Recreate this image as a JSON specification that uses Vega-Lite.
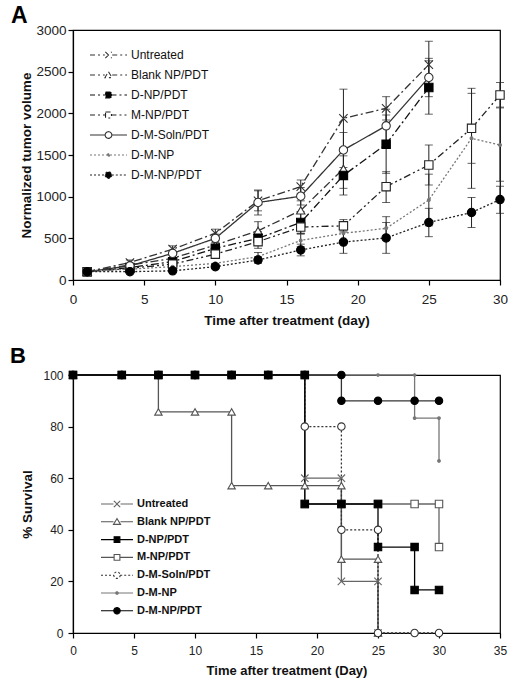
{
  "$schema": "https://vega.github.io/schema/vega-lite/v6.json",
  "padding": {"left": 9, "top": 4, "right": 5, "bottom": 5},
  "spacing": 16,
  "config": {
    "font": "Liberation Sans",
    "view": {"stroke": "#000", "strokeWidth": 1.2},
    "axis": {"grid": false, "domainColor": "#000", "tickColor": "#000", "labelColor": "#222", "titleColor": "#111", "titleFontWeight": "bold", "labelFlush": false, "labelOverlap": false, "tickSize": 5, "domainWidth": 1.2, "tickWidth": 1.2}
  },
  "datasets": {
    "a": [
      {"s": "Untreated", "d": 1, "v": 100}, {"s": "Untreated", "d": 4, "v": 210}, {"s": "Untreated", "d": 7, "v": 370}, {"s": "Untreated", "d": 10, "v": 560}, {"s": "Untreated", "d": 13, "v": 950}, {"s": "Untreated", "d": 16, "v": 1120}, {"s": "Untreated", "d": 19, "v": 1940}, {"s": "Untreated", "d": 22, "v": 2060}, {"s": "Untreated", "d": 25, "v": 2585},
      {"s": "Blank NP/PDT", "d": 1, "v": 100}, {"s": "Blank NP/PDT", "d": 4, "v": 180}, {"s": "Blank NP/PDT", "d": 7, "v": 260}, {"s": "Blank NP/PDT", "d": 10, "v": 420}, {"s": "Blank NP/PDT", "d": 13, "v": 590}, {"s": "Blank NP/PDT", "d": 16, "v": 835}, {"s": "Blank NP/PDT", "d": 19, "v": 1335},
      {"s": "D-NP/PDT", "d": 1, "v": 100}, {"s": "D-NP/PDT", "d": 4, "v": 150}, {"s": "D-NP/PDT", "d": 7, "v": 220}, {"s": "D-NP/PDT", "d": 10, "v": 380}, {"s": "D-NP/PDT", "d": 13, "v": 500}, {"s": "D-NP/PDT", "d": 16, "v": 690}, {"s": "D-NP/PDT", "d": 19, "v": 1255}, {"s": "D-NP/PDT", "d": 22, "v": 1630}, {"s": "D-NP/PDT", "d": 25, "v": 2310},
      {"s": "M-NP/PDT", "d": 1, "v": 100}, {"s": "M-NP/PDT", "d": 4, "v": 140}, {"s": "M-NP/PDT", "d": 7, "v": 190}, {"s": "M-NP/PDT", "d": 10, "v": 310}, {"s": "M-NP/PDT", "d": 13, "v": 460}, {"s": "M-NP/PDT", "d": 16, "v": 635}, {"s": "M-NP/PDT", "d": 19, "v": 650}, {"s": "M-NP/PDT", "d": 22, "v": 1120}, {"s": "M-NP/PDT", "d": 25, "v": 1380}, {"s": "M-NP/PDT", "d": 28, "v": 1820}, {"s": "M-NP/PDT", "d": 30, "v": 2220},
      {"s": "D-M-Soln/PDT", "d": 1, "v": 100}, {"s": "D-M-Soln/PDT", "d": 4, "v": 170}, {"s": "D-M-Soln/PDT", "d": 7, "v": 320}, {"s": "D-M-Soln/PDT", "d": 10, "v": 500}, {"s": "D-M-Soln/PDT", "d": 13, "v": 930}, {"s": "D-M-Soln/PDT", "d": 16, "v": 1005}, {"s": "D-M-Soln/PDT", "d": 19, "v": 1560}, {"s": "D-M-Soln/PDT", "d": 22, "v": 1850}, {"s": "D-M-Soln/PDT", "d": 25, "v": 2430},
      {"s": "D-M-NP", "d": 1, "v": 100}, {"s": "D-M-NP", "d": 4, "v": 130}, {"s": "D-M-NP", "d": 7, "v": 160}, {"s": "D-M-NP", "d": 10, "v": 200}, {"s": "D-M-NP", "d": 13, "v": 280}, {"s": "D-M-NP", "d": 16, "v": 475}, {"s": "D-M-NP", "d": 19, "v": 560}, {"s": "D-M-NP", "d": 22, "v": 620}, {"s": "D-M-NP", "d": 25, "v": 960}, {"s": "D-M-NP", "d": 28, "v": 1700}, {"s": "D-M-NP", "d": 30, "v": 1620},
      {"s": "D-M-NP/PDT", "d": 1, "v": 100}, {"s": "D-M-NP/PDT", "d": 4, "v": 100}, {"s": "D-M-NP/PDT", "d": 7, "v": 110}, {"s": "D-M-NP/PDT", "d": 10, "v": 160}, {"s": "D-M-NP/PDT", "d": 13, "v": 240}, {"s": "D-M-NP/PDT", "d": 16, "v": 360}, {"s": "D-M-NP/PDT", "d": 19, "v": 455}, {"s": "D-M-NP/PDT", "d": 22, "v": 505}, {"s": "D-M-NP/PDT", "d": 25, "v": 690}, {"s": "D-M-NP/PDT", "d": 28, "v": 810}, {"s": "D-M-NP/PDT", "d": 30, "v": 965}
    ],
    "aerr": [
      {"s": "Untreated", "d": 4, "lo": 180, "hi": 240}, {"s": "Untreated", "d": 7, "lo": 330, "hi": 410}, {"s": "Untreated", "d": 10, "lo": 510, "hi": 610}, {"s": "Untreated", "d": 13, "lo": 830, "hi": 1070}, {"s": "Untreated", "d": 16, "lo": 1040, "hi": 1200}, {"s": "Untreated", "d": 19, "lo": 1590, "hi": 2290}, {"s": "Untreated", "d": 22, "lo": 1920, "hi": 2200}, {"s": "Untreated", "d": 25, "lo": 2300, "hi": 2865},
      {"s": "Blank NP/PDT", "d": 7, "lo": 220, "hi": 300}, {"s": "Blank NP/PDT", "d": 10, "lo": 370, "hi": 470}, {"s": "Blank NP/PDT", "d": 13, "lo": 480, "hi": 700}, {"s": "Blank NP/PDT", "d": 16, "lo": 720, "hi": 950}, {"s": "Blank NP/PDT", "d": 19, "lo": 1100, "hi": 1570},
      {"s": "D-NP/PDT", "d": 10, "lo": 340, "hi": 420}, {"s": "D-NP/PDT", "d": 13, "lo": 420, "hi": 580}, {"s": "D-NP/PDT", "d": 16, "lo": 560, "hi": 820}, {"s": "D-NP/PDT", "d": 19, "lo": 1020, "hi": 1490}, {"s": "D-NP/PDT", "d": 22, "lo": 1280, "hi": 1980}, {"s": "D-NP/PDT", "d": 25, "lo": 1990, "hi": 2630},
      {"s": "M-NP/PDT", "d": 7, "lo": 160, "hi": 220}, {"s": "M-NP/PDT", "d": 10, "lo": 270, "hi": 350}, {"s": "M-NP/PDT", "d": 13, "lo": 380, "hi": 540}, {"s": "M-NP/PDT", "d": 16, "lo": 560, "hi": 710}, {"s": "M-NP/PDT", "d": 19, "lo": 575, "hi": 725}, {"s": "M-NP/PDT", "d": 22, "lo": 930, "hi": 1300}, {"s": "M-NP/PDT", "d": 25, "lo": 1140, "hi": 1620}, {"s": "M-NP/PDT", "d": 28, "lo": 1400, "hi": 2240}, {"s": "M-NP/PDT", "d": 30, "lo": 2075, "hi": 2370},
      {"s": "D-M-Soln/PDT", "d": 10, "lo": 450, "hi": 550}, {"s": "D-M-Soln/PDT", "d": 13, "lo": 780, "hi": 1080}, {"s": "D-M-Soln/PDT", "d": 16, "lo": 900, "hi": 1110}, {"s": "D-M-Soln/PDT", "d": 19, "lo": 1350, "hi": 1770}, {"s": "D-M-Soln/PDT", "d": 22, "lo": 1650, "hi": 2050}, {"s": "D-M-Soln/PDT", "d": 25, "lo": 2200, "hi": 2660},
      {"s": "D-M-NP", "d": 13, "lo": 230, "hi": 330}, {"s": "D-M-NP", "d": 16, "lo": 400, "hi": 550}, {"s": "D-M-NP", "d": 19, "lo": 470, "hi": 650}, {"s": "D-M-NP", "d": 22, "lo": 480, "hi": 760}, {"s": "D-M-NP", "d": 25, "lo": 650, "hi": 1270}, {"s": "D-M-NP", "d": 28, "lo": 1100, "hi": 2300}, {"s": "D-M-NP", "d": 30, "lo": 1185, "hi": 2065},
      {"s": "D-M-NP/PDT", "d": 10, "lo": 140, "hi": 180}, {"s": "D-M-NP/PDT", "d": 13, "lo": 200, "hi": 280}, {"s": "D-M-NP/PDT", "d": 16, "lo": 290, "hi": 430}, {"s": "D-M-NP/PDT", "d": 19, "lo": 320, "hi": 590}, {"s": "D-M-NP/PDT", "d": 22, "lo": 320, "hi": 690}, {"s": "D-M-NP/PDT", "d": 25, "lo": 520, "hi": 860}, {"s": "D-M-NP/PDT", "d": 28, "lo": 630, "hi": 990}, {"s": "D-M-NP/PDT", "d": 30, "lo": 800, "hi": 1125}
    ],
    "b": [
      {"s": "Untreated", "i": 1, "d": 0, "p": 100}, {"s": "Untreated", "i": 2, "d": 4, "p": 100}, {"s": "Untreated", "i": 3, "d": 7, "p": 100}, {"s": "Untreated", "i": 4, "d": 10, "p": 100}, {"s": "Untreated", "i": 5, "d": 13, "p": 100}, {"s": "Untreated", "i": 6, "d": 16, "p": 100}, {"s": "Untreated", "i": 7, "d": 19, "p": 100}, {"s": "Untreated", "i": 8, "d": 19, "p": 60}, {"s": "Untreated", "i": 9, "d": 22, "p": 60}, {"s": "Untreated", "i": 10, "d": 22, "p": 20}, {"s": "Untreated", "i": 11, "d": 25, "p": 20}, {"s": "Untreated", "i": 12, "d": 25, "p": 0},
      {"s": "Blank NP/PDT", "i": 1, "d": 0, "p": 100}, {"s": "Blank NP/PDT", "i": 2, "d": 4, "p": 100}, {"s": "Blank NP/PDT", "i": 3, "d": 7, "p": 100}, {"s": "Blank NP/PDT", "i": 4, "d": 7, "p": 85.7}, {"s": "Blank NP/PDT", "i": 5, "d": 10, "p": 85.7}, {"s": "Blank NP/PDT", "i": 6, "d": 13, "p": 85.7}, {"s": "Blank NP/PDT", "i": 7, "d": 13, "p": 57.1}, {"s": "Blank NP/PDT", "i": 8, "d": 16, "p": 57.1}, {"s": "Blank NP/PDT", "i": 9, "d": 19, "p": 57.1}, {"s": "Blank NP/PDT", "i": 10, "d": 22, "p": 57.1}, {"s": "Blank NP/PDT", "i": 11, "d": 22, "p": 28.6}, {"s": "Blank NP/PDT", "i": 12, "d": 25, "p": 28.6}, {"s": "Blank NP/PDT", "i": 13, "d": 25, "p": 0},
      {"s": "M-NP/PDT", "i": 1, "d": 0, "p": 100}, {"s": "M-NP/PDT", "i": 2, "d": 4, "p": 100}, {"s": "M-NP/PDT", "i": 3, "d": 7, "p": 100}, {"s": "M-NP/PDT", "i": 4, "d": 10, "p": 100}, {"s": "M-NP/PDT", "i": 5, "d": 13, "p": 100}, {"s": "M-NP/PDT", "i": 6, "d": 16, "p": 100}, {"s": "M-NP/PDT", "i": 7, "d": 19, "p": 100}, {"s": "M-NP/PDT", "i": 8, "d": 19, "p": 50}, {"s": "M-NP/PDT", "i": 9, "d": 22, "p": 50}, {"s": "M-NP/PDT", "i": 10, "d": 25, "p": 50}, {"s": "M-NP/PDT", "i": 11, "d": 28, "p": 50}, {"s": "M-NP/PDT", "i": 12, "d": 30, "p": 50}, {"s": "M-NP/PDT", "i": 13, "d": 30, "p": 33.3},
      {"s": "D-M-Soln/PDT", "i": 1, "d": 0, "p": 100}, {"s": "D-M-Soln/PDT", "i": 2, "d": 4, "p": 100}, {"s": "D-M-Soln/PDT", "i": 3, "d": 7, "p": 100}, {"s": "D-M-Soln/PDT", "i": 4, "d": 10, "p": 100}, {"s": "D-M-Soln/PDT", "i": 5, "d": 13, "p": 100}, {"s": "D-M-Soln/PDT", "i": 6, "d": 16, "p": 100}, {"s": "D-M-Soln/PDT", "i": 7, "d": 19, "p": 100}, {"s": "D-M-Soln/PDT", "i": 8, "d": 19, "p": 80}, {"s": "D-M-Soln/PDT", "i": 9, "d": 22, "p": 80}, {"s": "D-M-Soln/PDT", "i": 10, "d": 22, "p": 40}, {"s": "D-M-Soln/PDT", "i": 11, "d": 25, "p": 40}, {"s": "D-M-Soln/PDT", "i": 12, "d": 25, "p": 0}, {"s": "D-M-Soln/PDT", "i": 13, "d": 28, "p": 0}, {"s": "D-M-Soln/PDT", "i": 14, "d": 30, "p": 0},
      {"s": "D-M-NP", "i": 1, "d": 0, "p": 100}, {"s": "D-M-NP", "i": 2, "d": 4, "p": 100}, {"s": "D-M-NP", "i": 3, "d": 7, "p": 100}, {"s": "D-M-NP", "i": 4, "d": 10, "p": 100}, {"s": "D-M-NP", "i": 5, "d": 13, "p": 100}, {"s": "D-M-NP", "i": 6, "d": 16, "p": 100}, {"s": "D-M-NP", "i": 7, "d": 19, "p": 100}, {"s": "D-M-NP", "i": 8, "d": 22, "p": 100}, {"s": "D-M-NP", "i": 9, "d": 25, "p": 100}, {"s": "D-M-NP", "i": 10, "d": 28, "p": 100}, {"s": "D-M-NP", "i": 11, "d": 28, "p": 83.3}, {"s": "D-M-NP", "i": 12, "d": 30, "p": 83.3}, {"s": "D-M-NP", "i": 13, "d": 30, "p": 66.7},
      {"s": "D-M-NP/PDT", "i": 1, "d": 0, "p": 100}, {"s": "D-M-NP/PDT", "i": 2, "d": 4, "p": 100}, {"s": "D-M-NP/PDT", "i": 3, "d": 7, "p": 100}, {"s": "D-M-NP/PDT", "i": 4, "d": 10, "p": 100}, {"s": "D-M-NP/PDT", "i": 5, "d": 13, "p": 100}, {"s": "D-M-NP/PDT", "i": 6, "d": 16, "p": 100}, {"s": "D-M-NP/PDT", "i": 7, "d": 19, "p": 100}, {"s": "D-M-NP/PDT", "i": 8, "d": 22, "p": 100}, {"s": "D-M-NP/PDT", "i": 9, "d": 22, "p": 90}, {"s": "D-M-NP/PDT", "i": 10, "d": 25, "p": 90}, {"s": "D-M-NP/PDT", "i": 11, "d": 28, "p": 90}, {"s": "D-M-NP/PDT", "i": 12, "d": 30, "p": 90},
      {"s": "D-NP/PDT", "i": 1, "d": 0, "p": 100}, {"s": "D-NP/PDT", "i": 2, "d": 4, "p": 100}, {"s": "D-NP/PDT", "i": 3, "d": 7, "p": 100}, {"s": "D-NP/PDT", "i": 4, "d": 10, "p": 100}, {"s": "D-NP/PDT", "i": 5, "d": 13, "p": 100}, {"s": "D-NP/PDT", "i": 6, "d": 16, "p": 100}, {"s": "D-NP/PDT", "i": 7, "d": 19, "p": 100}, {"s": "D-NP/PDT", "i": 8, "d": 19, "p": 50}, {"s": "D-NP/PDT", "i": 9, "d": 22, "p": 50}, {"s": "D-NP/PDT", "i": 10, "d": 25, "p": 50}, {"s": "D-NP/PDT", "i": 11, "d": 25, "p": 33.3}, {"s": "D-NP/PDT", "i": 12, "d": 28, "p": 33.3}, {"s": "D-NP/PDT", "i": 13, "d": 28, "p": 16.7}, {"s": "D-NP/PDT", "i": 14, "d": 30, "p": 16.7}
    ]
  },
  "vconcat": [
    {
      "width": 427,
      "height": 250,
      "title": {"text": "A", "anchor": "start", "frame": "group", "dx": -62, "offset": -23, "baseline": "alphabetic", "fontSize": 23, "fontWeight": "bold", "color": "#000"},
      "data": {"name": "a"},
      "encoding": {
        "x": {"field": "d", "type": "quantitative", "scale": {"domain": [0, 30], "nice": false}, "axis": {"values": [0, 5, 10, 15, 20, 25, 30], "title": "Time after treatment (day)", "labelFontSize": 13.5, "labelPadding": 7, "titleFontSize": 13.5, "titlePadding": 8}},
        "y": {"field": "v", "type": "quantitative", "scale": {"domain": [0, 3000], "nice": false}, "axis": {"values": [0, 500, 1000, 1500, 2000, 2500, 3000], "format": "d", "title": "Normalized tumor volume", "labelFontSize": 13.5, "labelPadding": 2, "titleFontSize": 13.5, "titlePadding": 2}}
      },
      "layer": [
        {
          "mark": {"type": "line", "strokeWidth": 1.3},
          "encoding": {
            "order": {"field": "d", "type": "quantitative"},
            "stroke": {"field": "s", "type": "nominal", "legend": null, "scale": {"domain": ["Untreated", "Blank NP/PDT", "D-NP/PDT", "M-NP/PDT", "D-M-Soln/PDT", "D-M-NP", "D-M-NP/PDT"], "range": ["#333333", "#333333", "#111111", "#222222", "#333333", "#777777", "#222222"]}},
            "strokeDash": {"field": "s", "type": "nominal", "legend": null, "scale": {"domain": ["Untreated", "Blank NP/PDT", "D-NP/PDT", "M-NP/PDT", "D-M-Soln/PDT", "D-M-NP", "D-M-NP/PDT"], "range": [[8, 3, 2, 3], [8, 3, 2, 3], [8, 3, 2, 3], [7, 3, 2, 3, 2, 3], [1, 0], [2, 2], [2, 2]]}}
          }
        },
        {
          "data": {"name": "aerr"},
          "mark": {"type": "errorbar", "color": "#222", "ticks": {"size": 8, "color": "#222"}, "rule": {"strokeWidth": 1}},
          "encoding": {
            "x": {"field": "d", "type": "quantitative"},
            "y": {"field": "lo", "type": "quantitative"},
            "y2": {"field": "hi"}
          }
        },
        {
          "mark": {"type": "point", "size": 70, "strokeWidth": 1.1, "opacity": 1},
          "encoding": {
            "shape": {"field": "s", "type": "nominal", "legend": null, "scale": {"domain": ["Untreated", "Blank NP/PDT", "D-NP/PDT", "M-NP/PDT", "D-M-Soln/PDT", "D-M-NP", "D-M-NP/PDT"], "range": ["M-1,-1L1,1M-1,1L1,-1", "triangle-up", "square", "square", "circle", "M0.35,0A0.35,0.35 0 1,1 -0.35,0A0.35,0.35 0 1,1 0.35,0Z", "circle"]}},
            "stroke": {"field": "s", "type": "nominal", "legend": null, "scale": {"domain": ["Untreated", "Blank NP/PDT", "D-NP/PDT", "M-NP/PDT", "D-M-Soln/PDT", "D-M-NP", "D-M-NP/PDT"], "range": ["#333333", "#333333", "#000000", "#222222", "#333333", "#777777", "#000000"]}},
            "fill": {"field": "s", "type": "nominal", "legend": null, "scale": {"domain": ["Untreated", "Blank NP/PDT", "D-NP/PDT", "M-NP/PDT", "D-M-Soln/PDT", "D-M-NP", "D-M-NP/PDT"], "range": ["transparent", "#ffffff", "#000000", "#ffffff", "#ffffff", "#777777", "#000000"]}}
          }
        },
        {
          "transform": [{"filter": "false"}],
          "mark": {"type": "point", "strokeWidth": 1.1, "opacity": 1},
          "encoding": {
            "shape": {"field": "s", "type": "nominal", "legend": {"title": null, "orient": "none", "legendX": 16, "legendY": 17, "symbolSize": 1369, "clipHeight": 16, "rowPadding": 4, "labelOffset": 3, "labelFontSize": 12, "labelColor": "#111", "padding": 0, "symbolStrokeWidth": 1.1}, "scale": {"domain": ["Untreated", "Blank NP/PDT", "D-NP/PDT", "M-NP/PDT", "D-M-Soln/PDT", "D-M-NP", "D-M-NP/PDT"], "range": ["M-1,0H-0.2M0.2,0H1M-0.17,-0.17L0.17,0.17M-0.17,0.17L0.17,-0.17", "M-1,0H-0.2M0.2,0H1M0,-0.18L0.19,0.14L-0.19,0.14Z", "M-1,0H-0.16M0.16,0H1M-0.16,-0.16H0.16V0.16H-0.16Z", "M-1,0H-0.16M0.16,0H1M-0.16,-0.16H0.16V0.16H-0.16Z", "M-1,0H-0.18M0.18,0H1M0.18,0A0.18,0.18 0 1,1 -0.18,0A0.18,0.18 0 1,1 0.18,0Z", "M-1,0H1M0.07,0A0.07,0.07 0 1,1 -0.07,0A0.07,0.07 0 1,1 0.07,0Z", "M-1,0H-0.18M0.18,0H1M0.18,0A0.18,0.18 0 1,1 -0.18,0A0.18,0.18 0 1,1 0.18,0Z"]}},
            "stroke": {"field": "s", "type": "nominal", "legend": {"title": null, "orient": "none", "legendX": 16, "legendY": 17, "symbolSize": 1369, "clipHeight": 16, "rowPadding": 4, "labelOffset": 3, "labelFontSize": 12, "labelColor": "#111", "padding": 0, "symbolStrokeWidth": 1.1}, "scale": {"domain": ["Untreated", "Blank NP/PDT", "D-NP/PDT", "M-NP/PDT", "D-M-Soln/PDT", "D-M-NP", "D-M-NP/PDT"], "range": ["#333333", "#333333", "#111111", "#222222", "#333333", "#777777", "#222222"]}},
            "fill": {"field": "s", "type": "nominal", "legend": {"title": null, "orient": "none", "legendX": 16, "legendY": 17, "symbolSize": 1369, "clipHeight": 16, "rowPadding": 4, "labelOffset": 3, "labelFontSize": 12, "labelColor": "#111", "padding": 0, "symbolStrokeWidth": 1.1}, "scale": {"domain": ["Untreated", "Blank NP/PDT", "D-NP/PDT", "M-NP/PDT", "D-M-Soln/PDT", "D-M-NP", "D-M-NP/PDT"], "range": ["transparent", "#ffffff", "#000000", "#ffffff", "#ffffff", "#777777", "#000000"]}},
            "strokeDash": {"field": "s", "type": "nominal", "legend": {"title": null, "orient": "none", "legendX": 16, "legendY": 17, "symbolSize": 1369, "clipHeight": 16, "rowPadding": 4, "labelOffset": 3, "labelFontSize": 12, "labelColor": "#111", "padding": 0, "symbolStrokeWidth": 1.1}, "scale": {"domain": ["Untreated", "Blank NP/PDT", "D-NP/PDT", "M-NP/PDT", "D-M-Soln/PDT", "D-M-NP", "D-M-NP/PDT"], "range": [[5, 3, 2, 3], [5, 3, 2, 3], [5, 3, 2, 3], [5, 3, 2, 3, 2, 3], [1, 0], [2, 2], [2, 2]]}}
          }
        }
      ],
      "resolve": {"scale": {"shape": "independent", "stroke": "independent", "fill": "independent", "strokeDash": "independent"}}
    },
    {
      "width": 427,
      "height": 258,
      "title": {"text": "B", "anchor": "start", "frame": "group", "dx": -63, "offset": -16, "baseline": "alphabetic", "fontSize": 22, "fontWeight": "bold", "color": "#000"},
      "data": {"name": "b"},
      "encoding": {
        "x": {"field": "d", "type": "quantitative", "scale": {"domain": [0, 35], "nice": false}, "axis": {"values": [0, 5, 10, 15, 20, 25, 30, 35], "title": "Time after treatment (Day)", "labelFontSize": 12, "labelPadding": 7, "titleFontSize": 13, "titlePadding": 8}},
        "y": {"field": "p", "type": "quantitative", "scale": {"domain": [0, 100], "nice": false}, "axis": {"values": [0, 20, 40, 60, 80, 100], "title": "% Survival", "labelFontSize": 12, "labelPadding": 5, "titleFontSize": 13.5, "titlePadding": 8}}
      },
      "layer": [
        {
          "mark": {"type": "line", "strokeWidth": 1.3},
          "encoding": {
            "order": {"field": "i", "type": "quantitative"},
            "stroke": {"field": "s", "type": "nominal", "legend": null, "scale": {"domain": ["Untreated", "Blank NP/PDT", "D-NP/PDT", "M-NP/PDT", "D-M-Soln/PDT", "D-M-NP", "D-M-NP/PDT"], "range": ["#666666", "#555555", "#000000", "#666666", "#333333", "#777777", "#333333"]}},
            "strokeDash": {"field": "s", "type": "nominal", "legend": null, "scale": {"domain": ["Untreated", "Blank NP/PDT", "D-NP/PDT", "M-NP/PDT", "D-M-Soln/PDT", "D-M-NP", "D-M-NP/PDT"], "range": [[1, 0], [1, 0], [1, 0], [1, 0], [2, 2], [1, 0], [1, 0]]}}
          }
        },
        {
          "mark": {"type": "point", "size": 55, "strokeWidth": 1.1, "opacity": 1},
          "encoding": {
            "shape": {"field": "s", "type": "nominal", "legend": null, "scale": {"domain": ["Untreated", "Blank NP/PDT", "D-NP/PDT", "M-NP/PDT", "D-M-Soln/PDT", "D-M-NP", "D-M-NP/PDT"], "range": ["M-1,-1L1,1M-1,1L1,-1", "triangle-up", "square", "square", "circle", "M0.35,0A0.35,0.35 0 1,1 -0.35,0A0.35,0.35 0 1,1 0.35,0Z", "circle"]}},
            "stroke": {"field": "s", "type": "nominal", "legend": null, "scale": {"domain": ["Untreated", "Blank NP/PDT", "D-NP/PDT", "M-NP/PDT", "D-M-Soln/PDT", "D-M-NP", "D-M-NP/PDT"], "range": ["#666666", "#555555", "#000000", "#555555", "#333333", "#777777", "#000000"]}},
            "fill": {"field": "s", "type": "nominal", "legend": null, "scale": {"domain": ["Untreated", "Blank NP/PDT", "D-NP/PDT", "M-NP/PDT", "D-M-Soln/PDT", "D-M-NP", "D-M-NP/PDT"], "range": ["transparent", "#ffffff", "#000000", "#ffffff", "#ffffff", "#777777", "#000000"]}}
          }
        },
        {
          "transform": [{"filter": "false"}],
          "mark": {"type": "point", "strokeWidth": 1.1, "opacity": 1},
          "encoding": {
            "shape": {"field": "s", "type": "nominal", "legend": {"title": null, "orient": "none", "legendX": 27, "legendY": 122, "symbolSize": 1024, "clipHeight": 14, "rowPadding": 3.8, "labelOffset": 3, "labelFontSize": 11, "labelFontWeight": "bold", "labelColor": "#111", "padding": 0, "symbolStrokeWidth": 1.1}, "scale": {"domain": ["Untreated", "Blank NP/PDT", "D-NP/PDT", "M-NP/PDT", "D-M-Soln/PDT", "D-M-NP", "D-M-NP/PDT"], "range": ["M-1,0H-0.22M0.22,0H1M-0.2,-0.2L0.2,0.2M-0.2,0.2L0.2,-0.2", "M-1,0H-0.22M0.22,0H1M0,-0.2L0.22,0.16L-0.22,0.16Z", "M-1,0H-0.18M0.18,0H1M-0.18,-0.18H0.18V0.18H-0.18Z", "M-1,0H-0.18M0.18,0H1M-0.18,-0.18H0.18V0.18H-0.18Z", "M-1,0H-0.2M0.2,0H1M0.2,0A0.2,0.2 0 1,1 -0.2,0A0.2,0.2 0 1,1 0.2,0Z", "M-1,0H1M0.08,0A0.08,0.08 0 1,1 -0.08,0A0.08,0.08 0 1,1 0.08,0Z", "M-1,0H-0.2M0.2,0H1M0.2,0A0.2,0.2 0 1,1 -0.2,0A0.2,0.2 0 1,1 0.2,0Z"]}},
            "stroke": {"field": "s", "type": "nominal", "legend": {"title": null, "orient": "none", "legendX": 27, "legendY": 122, "symbolSize": 1024, "clipHeight": 14, "rowPadding": 3.8, "labelOffset": 3, "labelFontSize": 11, "labelFontWeight": "bold", "labelColor": "#111", "padding": 0, "symbolStrokeWidth": 1.1}, "scale": {"domain": ["Untreated", "Blank NP/PDT", "D-NP/PDT", "M-NP/PDT", "D-M-Soln/PDT", "D-M-NP", "D-M-NP/PDT"], "range": ["#666666", "#555555", "#000000", "#555555", "#333333", "#777777", "#000000"]}},
            "fill": {"field": "s", "type": "nominal", "legend": {"title": null, "orient": "none", "legendX": 27, "legendY": 122, "symbolSize": 1024, "clipHeight": 14, "rowPadding": 3.8, "labelOffset": 3, "labelFontSize": 11, "labelFontWeight": "bold", "labelColor": "#111", "padding": 0, "symbolStrokeWidth": 1.1}, "scale": {"domain": ["Untreated", "Blank NP/PDT", "D-NP/PDT", "M-NP/PDT", "D-M-Soln/PDT", "D-M-NP", "D-M-NP/PDT"], "range": ["transparent", "#ffffff", "#000000", "#ffffff", "#ffffff", "#777777", "#000000"]}},
            "strokeDash": {"field": "s", "type": "nominal", "legend": {"title": null, "orient": "none", "legendX": 27, "legendY": 122, "symbolSize": 1024, "clipHeight": 14, "rowPadding": 3.8, "labelOffset": 3, "labelFontSize": 11, "labelFontWeight": "bold", "labelColor": "#111", "padding": 0, "symbolStrokeWidth": 1.1}, "scale": {"domain": ["Untreated", "Blank NP/PDT", "D-NP/PDT", "M-NP/PDT", "D-M-Soln/PDT", "D-M-NP", "D-M-NP/PDT"], "range": [[1, 0], [1, 0], [1, 0], [1, 0], [2, 2], [1, 0], [1, 0]]}}
          }
        }
      ],
      "resolve": {"scale": {"shape": "independent", "stroke": "independent", "fill": "independent", "strokeDash": "independent"}}
    }
  ]
}
